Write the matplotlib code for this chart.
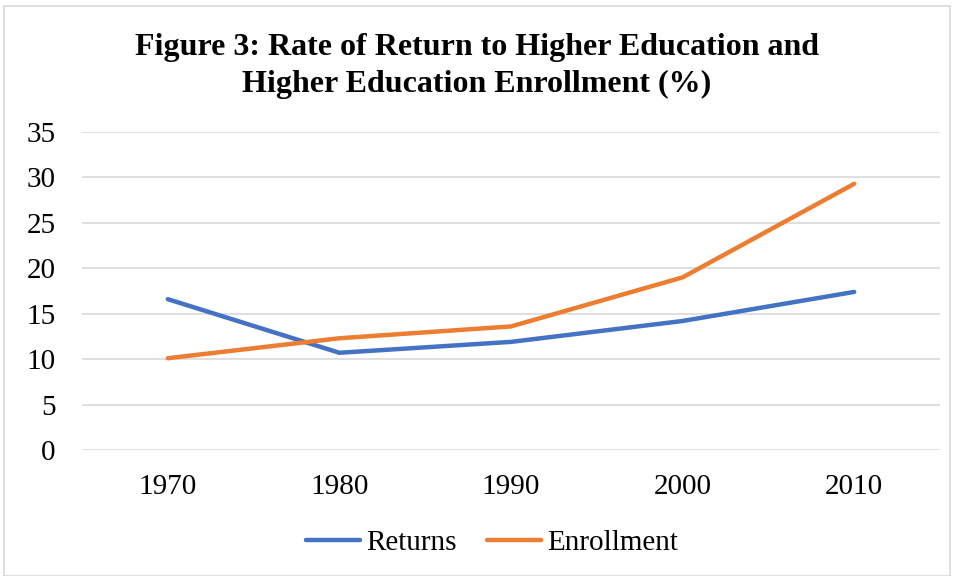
import matplotlib.pyplot as plt
from matplotlib.patches import Rectangle

years = ["1970", "1980", "1990", "2000", "2010"]
returns = [16.6, 10.7, 11.9, 14.2, 17.4]
enrollment = [10.1, 12.3, 13.6, 19.0, 29.3]
y_ticks = [0, 5, 10, 15, 20, 25, 30, 35]

plt.rcParams['font.family'] = ['Liberation Serif', 'DejaVu Serif']

fig = plt.figure(figsize=(9.54, 5.76), dpi=100)
fig.patches.append(Rectangle((0.004, 0.0), 0.992, 0.99, transform=fig.transFigure,
                             fill=False, edgecolor="#d9d9d9", linewidth=1.2))

ax = fig.add_axes([82 / 954, 1 - 450 / 576, (940 - 82) / 954, (450 - 132) / 576])
x = range(len(years))
ax.plot(x, returns, color="#4472C4", linewidth=3.2, solid_capstyle="round", label="Returns")
ax.plot(x, enrollment, color="#ED7D31", linewidth=3.2, solid_capstyle="round", label="Enrollment")

ax.set_xlim(-0.5, len(years) - 0.5)
ax.set_ylim(0, 35)
ax.set_yticks(y_ticks)
ax.set_xticks(list(x))
ax.set_xticklabels(years)
ax.grid(axis="y", color="#d9d9d9", linewidth=1.2)
ax.set_axisbelow(True)
for s in ["top", "right", "left", "bottom"]:
    ax.spines[s].set_visible(False)
ax.tick_params(axis="both", length=0, labelsize=21, labelcolor="#000000")
ax.tick_params(axis="y", pad=19)
ax.tick_params(axis="x", pad=17)

fig.text(0.5, 1 - 66 / 576, "Figure 3: Rate of Return to Higher Education and\nHigher Education Enrollment (%)",
         ha="center", va="center", fontsize=23, fontweight="bold", linespacing=1.38)

fig.legend(loc="center", bbox_to_anchor=(492 / 954, 1 - 543 / 576), ncol=2, frameon=False,
           fontsize=21, handlelength=1.85, handletextpad=0.2, columnspacing=1.05)

fig.savefig("out.png", dpi=100)
